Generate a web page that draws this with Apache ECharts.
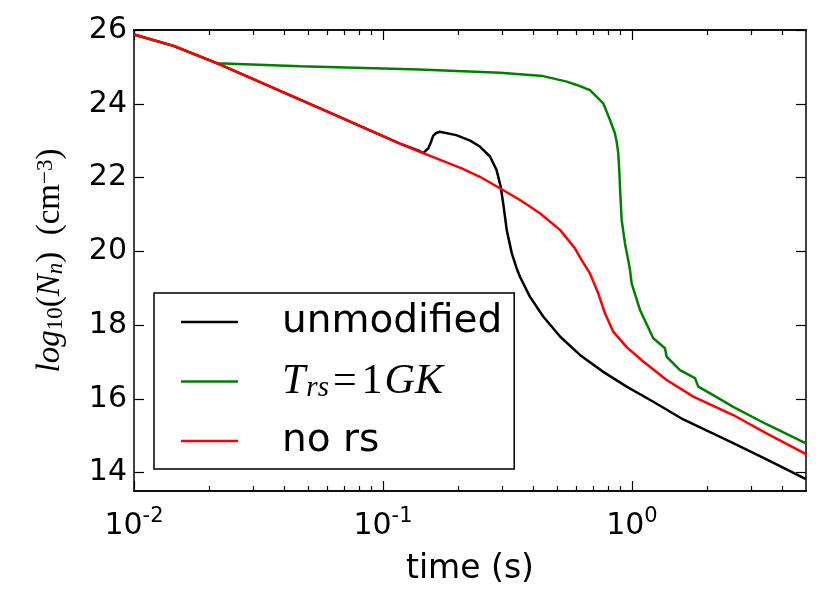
<!doctype html>
<html>
<head>
<meta charset="UTF-8">
<title></title>
<script src="https://cdn.jsdelivr.net/npm/echarts@6/dist/echarts.min.js"></script>
<style>
	html, body { margin: 0; padding: 0; background: #fff; }
	#main { width: 830px; height: 592px; }
</style>
</head>
<body>
<div id="main"></div>
<script>
	// time (s) and log10(N_n)
	var unmodT = [0.01, 0.0144, 0.0215, 0.0374, 0.0631, 0.1, 0.117, 0.14, 0.145, 0.152, 0.156, 0.159, 0.163, 0.169, 0.197, 0.224, 0.245, 0.269, 0.286, 0.297, 0.304, 0.314, 0.329, 0.344, 0.355, 0.389, 0.44, 0.514, 0.618, 0.767, 0.952, 1.218, 1.607, 2.55, 3.47, 5.0];
	var unmodV = [25.88, 25.57, 25.10, 24.39, 23.72, 23.12, 22.92, 22.72, 22.66, 22.79, 22.97, 23.13, 23.20, 23.24, 23.15, 23.00, 22.84, 22.57, 22.20, 21.75, 21.30, 20.58, 19.95, 19.54, 19.31, 18.77, 18.23, 17.69, 17.19, 16.73, 16.33, 15.92, 15.44, 14.80, 14.36, 13.82];

	var trsT = [0.01, 0.0144, 0.0215, 0.0464, 0.14, 0.295, 0.44, 0.547, 0.60, 0.678, 0.767, 0.816, 0.854, 0.868, 0.881, 0.889, 0.895, 0.909, 0.937, 0.966, 0.982, 0.997, 1.077, 1.218, 1.357, 1.378, 1.559, 1.791, 1.846, 2.12, 2.55, 3.47, 5.0];
	var trsV = [25.88, 25.57, 25.10, 25.02, 24.93, 24.84, 24.75, 24.60, 24.51, 24.37, 24.01, 23.56, 23.20, 22.97, 22.66, 22.20, 21.75, 20.85, 20.22, 19.76, 19.49, 19.13, 18.41, 17.64, 17.37, 17.14, 16.78, 16.56, 16.33, 16.10, 15.78, 15.31, 14.79];

	var noRsT = [0.01, 0.0144, 0.0215, 0.0374, 0.0631, 0.1, 0.117, 0.145, 0.207, 0.245, 0.295, 0.355, 0.427, 0.514, 0.59, 0.628, 0.678, 0.732, 0.779, 0.841, 0.952, 1.11, 1.378, 1.763, 2.55, 3.47, 5.0];
	var noRsV = [25.88, 25.57, 25.10, 24.39, 23.72, 23.12, 22.92, 22.66, 22.25, 22.02, 21.71, 21.39, 21.03, 20.58, 20.08, 19.76, 19.40, 18.86, 18.32, 17.82, 17.40, 17.01, 16.51, 16.06, 15.56, 15.06, 14.50];

	var majorX = [0.01, 0.1, 1];
	var minorX = [0.02, 0.03, 0.04, 0.05, 0.06, 0.07, 0.08, 0.09, 0.2, 0.3, 0.4, 0.5, 0.6, 0.7, 0.8, 0.9, 2, 3, 4];
	var yTicks = [14, 16, 18, 20, 22, 24, 26];

	var seriesNames = ['unmodified', 'T_rs=1GK', 'no rs'];
	var colors = ['#000000', '#008000', '#ff0000'];

	function zip(t, v) {
		var out = [];
		for (var i = 0; i < t.length; i++) out.push([t[i], v[i]]);
		return out;
	}

	var sans = 'DejaVu Sans';
	var serif = 'Liberation Serif';
	var frame = { show: true, onZero: false, lineStyle: { color: '#000', width: 1.5 } };

	function xAxis(pos, ticks, len, withLabel) {
		var ax = {
			type: 'log', logBase: 10, min: 0.01, max: 5, position: pos,
			axisLine: frame,
			axisTick: { show: true, inside: true, length: len, customValues: ticks, lineStyle: { color: '#000', width: 1.2 } },
			axisLabel: { show: false },
			splitLine: { show: false }
		};
		if (withLabel) {
			ax.axisLabel = {
				show: true,
				customValues: majorX,
				margin: 15,
				formatter: function (val) {
					var e = Math.round(Math.log(val) / Math.LN10);
					return '{b|10}{s|' + e + '}';
				},
				rich: {
					b: { fontFamily: sans, fontSize: 30, color: '#000', lineHeight: 40 },
					s: { fontFamily: sans, fontSize: 21, color: '#000', lineHeight: 7, verticalAlign: 'top' }
				}
			};
			ax.name = 'time (s)';
			ax.nameLocation = 'middle';
			ax.nameGap = 62;
			ax.nameTextStyle = { fontFamily: sans, fontSize: 33, color: '#000' };
		}
		return ax;
	}

	function yAxis(pos, withLabel) {
		var ax = {
			type: 'value', min: 13.5, max: 26, position: pos,
			axisLine: frame,
			axisTick: { show: true, inside: true, length: 10, customValues: yTicks, lineStyle: { color: '#000', width: 1.2 } },
			axisLabel: { show: false },
			splitLine: { show: false }
		};
		if (withLabel) {
			ax.axisLabel = { show: true, customValues: yTicks, margin: 7, fontFamily: sans, fontSize: 30, color: '#000' };
			ax.name = '{i|log}{sb|10}{r|(}{i|N}{si|n}{r|)  (cm}{sp|\u22123}{r|)}';
			ax.nameLocation = 'middle';
			ax.nameRotate = 90;
			ax.nameGap = 67;
			ax.nameTextStyle = {
				color: '#000',
				rich: {
					i: { fontFamily: serif, fontStyle: 'italic', fontSize: 33, color: '#000', lineHeight: 33 },
					r: { fontFamily: serif, fontSize: 33, color: '#000', lineHeight: 33 },
					sb: { fontFamily: serif, fontSize: 23, color: '#000', lineHeight: 14, verticalAlign: 'bottom' },
					si: { fontFamily: serif, fontStyle: 'italic', fontSize: 23, color: '#000', lineHeight: 14, verticalAlign: 'bottom' },
					sp: { fontFamily: serif, fontSize: 23, color: '#000', lineHeight: 10, verticalAlign: 'top' }
				}
			};
		}
		return ax;
	}

	var chart = echarts.init(document.getElementById('main'));
	chart.setOption({
		animation: false,
		backgroundColor: '#fff',
		grid: { left: 134, right: 24, top: 30, bottom: 101, containLabel: false },
		xAxis: [
			xAxis('bottom', majorX, 10, true),
			xAxis('bottom', minorX, 5, false),
			xAxis('top', majorX, 10, false),
			xAxis('top', minorX, 5, false)
		],
		yAxis: [yAxis('left', true), yAxis('right', false)],
		legend: {
			orient: 'vertical',
			left: 154, top: 293,
			padding: [8, 12, 7, 27],
			itemGap: 17.5,
			icon: 'rect',
			itemWidth: 57, itemHeight: 2.5,
			borderColor: '#000', borderWidth: 1.5, borderRadius: 0,
			backgroundColor: '#fff',
			data: seriesNames,
			formatter: function (name) {
				if (name === 'T_rs=1GK') return '{i|T}{sub|rs}{m|=}{r|1}{i|GK}';
				return name;
			},
			textStyle: {
				fontFamily: sans, fontSize: 39, color: '#000', lineHeight: 42,
				padding: [0, 0, 0, 39],
				rich: {
					i: { fontFamily: serif, fontStyle: 'italic', fontSize: 42, color: '#000', lineHeight: 42 },
					r: { fontFamily: serif, fontSize: 42, color: '#000', lineHeight: 42, padding: [0, 2, 0, 0] },
					m: { fontFamily: serif, fontSize: 42, color: '#000', lineHeight: 42, padding: [0, 5, 0, 3] },
					sub: { fontFamily: serif, fontStyle: 'italic', fontSize: 29, color: '#000', lineHeight: 24, verticalAlign: 'bottom', padding: [0, 1, 0, 1] }
				}
			}
		},
		series: [
			{ name: seriesNames[0], type: 'line', data: zip(unmodT, unmodV), symbol: 'none', color: colors[0], lineStyle: { width: 2.5, color: colors[0] } },
			{ name: seriesNames[1], type: 'line', data: zip(trsT, trsV), symbol: 'none', color: colors[1], lineStyle: { width: 2.5, color: colors[1] } },
			{ name: seriesNames[2], type: 'line', data: zip(noRsT, noRsV), symbol: 'none', color: colors[2], lineStyle: { width: 2.5, color: colors[2] } }
		]
	});
</script>
</body>
</html>
